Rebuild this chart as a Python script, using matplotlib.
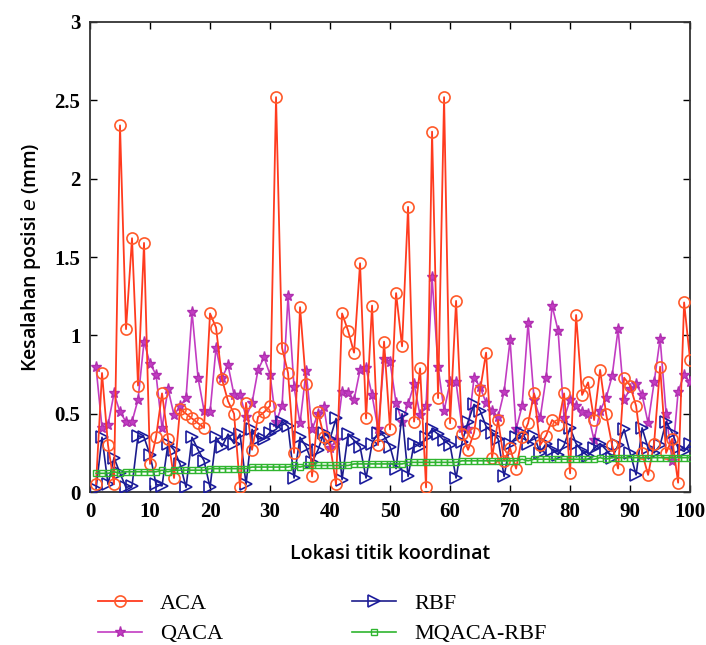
import numpy as np
import matplotlib.pyplot as plt

# Lokasi titik 1..100
x = np.arange(1, 101)

aca = [0.05, 0.76, 0.30, 0.05, 2.34, 1.04, 1.62, 0.68, 1.59, 0.18,
       0.35, 0.63, 0.34, 0.09, 0.53, 0.50, 0.47, 0.44, 0.41, 1.14,
       1.05, 0.72, 0.58, 0.50, 0.03, 0.57, 0.27, 0.48, 0.51, 0.55,
       2.52, 0.92, 0.76, 0.25, 1.18, 0.69, 0.10, 0.51, 0.35, 0.30,
       0.05, 1.14, 1.03, 0.89, 1.46, 0.47, 1.19, 0.30, 0.96, 0.40,
       1.27, 0.93, 1.82, 0.45, 0.79, 0.03, 2.30, 0.60, 2.52, 0.44,
       1.22, 0.37, 0.27, 0.38, 0.65, 0.89, 0.22, 0.46, 0.20, 0.28,
       0.15, 0.35, 0.44, 0.63, 0.30, 0.36, 0.46, 0.43, 0.63, 0.12,
       1.13, 0.62, 0.70, 0.46, 0.78, 0.50, 0.30, 0.15, 0.73, 0.68,
       0.55, 0.25, 0.11, 0.31, 0.80, 0.25, 0.34, 0.06, 1.21, 0.84]

qaca = [0.80, 0.41, 0.43, 0.63, 0.51, 0.45, 0.45, 0.59, 0.96, 0.82,
        0.75, 0.41, 0.66, 0.49, 0.55, 0.60, 1.15, 0.73, 0.52, 0.51,
        0.92, 0.73, 0.81, 0.62, 0.62, 0.48, 0.57, 0.78, 0.86, 0.75,
        0.45, 0.55, 1.25, 0.67, 0.44, 0.77, 0.40, 0.50, 0.54, 0.28,
        0.33, 0.64, 0.63, 0.59, 0.78, 0.79, 0.62, 0.40, 0.85, 0.83,
        0.57, 0.45, 0.56, 0.69, 0.49, 0.55, 1.37, 0.80, 0.52, 0.70,
        0.70, 0.41, 0.40, 0.73, 0.67, 0.57, 0.52, 0.48, 0.64, 0.97,
        0.40, 0.55, 1.08, 0.59, 0.47, 0.73, 1.19, 1.03, 0.47, 0.59,
        0.55, 0.51, 0.50, 0.33, 0.52, 0.60, 0.74, 1.04, 0.59, 0.66,
        0.69, 0.62, 0.44, 0.70, 0.98, 0.50, 0.20, 0.64, 0.75, 0.70]

rbf = [0.02, 0.35, 0.05, 0.22, 0.12, 0.03, 0.04, 0.36, 0.35, 0.24,
       0.05, 0.04, 0.31, 0.27, 0.18, 0.03, 0.35, 0.27, 0.20, 0.03,
       0.35, 0.29, 0.37, 0.31, 0.37, 0.05, 0.40, 0.34, 0.34, 0.38,
       0.40, 0.45, 0.42, 0.09, 0.35, 0.29, 0.19, 0.27, 0.38, 0.34,
       0.47, 0.08, 0.37, 0.33, 0.29, 0.09, 0.31, 0.38, 0.36, 0.29,
       0.15, 0.50, 0.10, 0.31, 0.29, 0.35, 0.40, 0.37, 0.33, 0.30,
       0.09, 0.32, 0.45, 0.56, 0.52, 0.42, 0.38, 0.34, 0.10, 0.31,
       0.35, 0.38, 0.31, 0.36, 0.25, 0.31, 0.27, 0.24, 0.30, 0.41,
       0.31, 0.26, 0.23, 0.28, 0.31, 0.27, 0.22, 0.30, 0.40, 0.25,
       0.11, 0.41, 0.28, 0.25, 0.30, 0.45, 0.38, 0.28, 0.26, 0.31]

mqaca_rbf = [0.12, 0.12, 0.12, 0.13, 0.12, 0.13, 0.13, 0.13, 0.13, 0.13,
             0.13, 0.14, 0.13, 0.14, 0.14, 0.14, 0.14, 0.14, 0.14, 0.15,
             0.15, 0.15, 0.15, 0.15, 0.15, 0.15, 0.16, 0.16, 0.16, 0.16,
             0.16, 0.16, 0.16, 0.17, 0.16, 0.17, 0.17, 0.17, 0.17, 0.17,
             0.17, 0.17, 0.17, 0.18, 0.18, 0.18, 0.18, 0.18, 0.18, 0.18,
             0.18, 0.18, 0.19, 0.19, 0.19, 0.19, 0.19, 0.19, 0.19, 0.19,
             0.19, 0.20, 0.20, 0.20, 0.20, 0.20, 0.20, 0.20, 0.20, 0.20,
             0.20, 0.21, 0.20, 0.21, 0.21, 0.21, 0.21, 0.21, 0.21, 0.21,
             0.21, 0.21, 0.21, 0.21, 0.22, 0.21, 0.22, 0.22, 0.22, 0.22,
             0.22, 0.22, 0.22, 0.22, 0.22, 0.22, 0.22, 0.22, 0.22, 0.22]

fig = plt.figure(figsize=(7.06, 6.45), dpi=100)
ax = fig.add_axes([0.1275, 0.237, 0.85, 0.729])

ax.plot(x, aca, color='#ff3b1f', marker='o', mfc='none', mec='#ff5a2a',
        ms=8, lw=1.3, mew=1.2, label='ACA', zorder=4)
ax.plot(x, qaca, color='#c23cc2', marker='*', mfc='#c23cc2', mec='#b030b0',
        ms=8, lw=1.2, label='QACA', zorder=3)
ax.plot(x, rbf, color='#1c1c8c', marker='>', mfc='none', mec='#1c1c9c',
        ms=8, lw=1.2, mew=1.2, label='RBF', zorder=3)
ax.plot(x, mqaca_rbf, color='#2fb52f', marker='s', mfc='none', mec='#2fb52f',
        ms=5, lw=1.2, mew=1.0, label='MQACA-RBF', zorder=5)

ax.set_xlim(0, 100)
ax.set_ylim(0, 3)
ax.set_xticks(np.arange(0, 101, 10))
ax.set_yticks([0, 0.5, 1, 1.5, 2, 2.5, 3])
ax.set_yticklabels(['0', '0.5', '1', '1.5', '2', '2.5', '3'])
ax.tick_params(direction='in', top=True, right=True, length=5, width=1,
               labelsize=15, pad=7)
for lab in ax.get_xticklabels() + ax.get_yticklabels():
    lab.set_fontfamily('Liberation Serif')
    lab.set_fontweight('bold')
for s in ax.spines.values():
    s.set_linewidth(1.3)
    s.set_color('#333333')

ax.set_xlabel('Lokasi titik koordinat', fontsize=14, family='Open Sans',
              fontweight='semibold', labelpad=16)
ax.set_ylabel('Kesalahan posisi $\\it{e}$ (mm)', fontsize=14, family='Open Sans',
              fontweight='semibold', labelpad=8)

fig.legend(loc='lower left', bbox_to_anchor=(0.11, -0.03), ncol=2, frameon=False,
           prop={'family': 'Liberation Serif', 'size': 16}, columnspacing=5.8,
           handlelength=2.0, labelspacing=0.45)

fig.savefig('out.png', dpi=100)
